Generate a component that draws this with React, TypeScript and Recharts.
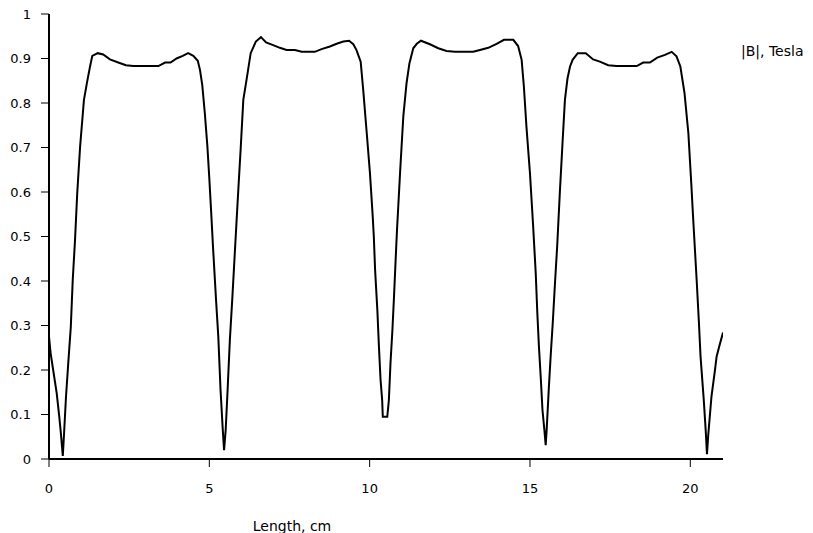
import { LineChart, Line, XAxis, YAxis } from 'recharts'

// length along the magnet (cm) and field magnitude (T)
const LENGTH_CM = [
  0.0, 0.05, 0.13, 0.24, 0.32, 0.37, 0.43, 0.47, 0.53, 0.6, 0.68, 0.74, 0.81, 0.88, 0.97,
  1.09, 1.19, 1.28, 1.35, 1.52, 1.69, 1.9, 2.16, 2.4, 2.63, 3.05, 3.41, 3.62, 3.79, 3.98,
  4.17, 4.34, 4.5, 4.64, 4.71, 4.78, 4.86, 4.94, 5.0, 5.05, 5.12, 5.21, 5.28, 5.35, 5.42,
  5.46, 5.51, 5.57, 5.64, 5.72, 5.8, 5.85, 5.9, 5.98, 6.06, 6.16, 6.29, 6.45, 6.61, 6.77,
  6.99, 7.2, 7.41, 7.67, 7.88, 8.29, 8.5, 8.76, 8.97, 9.18, 9.36, 9.49, 9.59, 9.72, 9.8,
  9.91, 10.01, 10.09, 10.13, 10.17, 10.24, 10.29, 10.34, 10.39, 10.41, 10.55, 10.6, 10.65,
  10.71, 10.76, 10.81, 10.85, 10.95, 11.05, 11.15, 11.24, 11.36, 11.47, 11.6, 11.88, 12.14,
  12.4, 12.66, 13.23, 13.44, 13.7, 13.96, 14.19, 14.48, 14.63, 14.74, 14.81, 14.89, 15.0,
  15.1, 15.18, 15.23, 15.28, 15.34, 15.39, 15.45, 15.49, 15.52, 15.59, 15.65, 15.71, 15.78,
  15.85, 15.93, 16.02, 16.09, 16.17, 16.25, 16.33, 16.49, 16.74, 16.97, 17.18, 17.44, 17.7,
  18.33, 18.53, 18.74, 18.97, 19.21, 19.42, 19.57, 19.69, 19.82, 19.94, 20.03, 20.09, 20.2,
  20.27, 20.32, 20.42, 20.48, 20.52, 20.56, 20.66, 20.77, 20.82, 20.9, 21.02,
]

const B_TESLA = [
  0.275, 0.238, 0.2, 0.148, 0.095, 0.058, 0.007, 0.058, 0.14, 0.215, 0.297, 0.402, 0.49, 0.597, 0.702,
  0.807, 0.848, 0.882, 0.906, 0.912, 0.909, 0.898, 0.891, 0.885, 0.883, 0.883, 0.883, 0.891, 0.891, 0.9,
  0.906, 0.912, 0.906, 0.895, 0.874, 0.84, 0.777, 0.702, 0.63, 0.565, 0.47, 0.357, 0.275, 0.155, 0.065,
  0.02, 0.065, 0.155, 0.267, 0.365, 0.47, 0.535, 0.6, 0.7, 0.807, 0.852, 0.912, 0.938, 0.948, 0.936,
  0.93, 0.924, 0.919, 0.919, 0.915, 0.915, 0.921, 0.927, 0.933, 0.938, 0.94, 0.932, 0.919, 0.893, 0.829,
  0.732, 0.642, 0.552, 0.5, 0.425, 0.335, 0.252, 0.178, 0.133, 0.095, 0.095, 0.133, 0.215,
  0.29, 0.365, 0.447, 0.51, 0.645, 0.77, 0.844, 0.889, 0.923, 0.933, 0.94, 0.932, 0.923,
  0.917, 0.915, 0.915, 0.919, 0.924, 0.933, 0.942, 0.942, 0.928, 0.897, 0.837, 0.747, 0.642,
  0.522, 0.417, 0.327, 0.252, 0.178, 0.11, 0.065, 0.031, 0.065, 0.162, 0.237, 0.305, 0.395,
  0.48, 0.597, 0.717, 0.807, 0.855, 0.882, 0.897, 0.912, 0.912, 0.898, 0.893, 0.885, 0.883,
  0.883, 0.891, 0.891, 0.902, 0.908, 0.915, 0.905, 0.882, 0.822, 0.732, 0.62, 0.54, 0.4,
  0.305, 0.23, 0.133, 0.065, 0.011, 0.054, 0.14, 0.2, 0.23, 0.252, 0.284,
]

const X_TICKS = [0, 5, 10, 15, 20]
const Y_TICKS = [0, 0.1, 0.2, 0.3, 0.4, 0.5, 0.6, 0.7, 0.8, 0.9, 1]

const data = LENGTH_CM.map((x, i) => ({ x, b: B_TESLA[i] }))

const FONT = '"DejaVu Sans", Verdana, sans-serif'
const tickStyle = { fontFamily: FONT, fontSize: 13, fill: '#000' }

export default function App() {
  return (
    <div style={{ position: 'absolute', left: 0, top: 0, width: 813, height: 533, background: '#fff' }}>
      <LineChart
        width={813}
        height={533}
        data={data}
        margin={{ top: 14, right: 90, bottom: 44, left: 0 }}
      >
        <XAxis
          dataKey="x"
          type="number"
          domain={[0, 21.02]}
          ticks={X_TICKS}
          allowDataOverflow
          height={30}
          tickSize={8}
          tickMargin={17}
          tick={tickStyle}
          axisLine={{ stroke: '#000', strokeWidth: 2 }}
          tickLine={{ stroke: '#000', strokeWidth: 1 }}
          label={{
            value: 'Length, cm',
            position: 'bottom',
            offset: 32,
            dx: -94,
            style: { fontFamily: FONT, fontSize: 14, fill: '#000' },
          }}
        />
        <YAxis
          type="number"
          domain={[0, 1]}
          ticks={Y_TICKS}
          width={49}
          tickSize={8}
          tickMargin={10}
          tick={tickStyle}
          tickFormatter={(v: number) => String(Math.round(v * 10) / 10)}
          axisLine={{ stroke: '#000', strokeWidth: 2 }}
          tickLine={{ stroke: '#000', strokeWidth: 1 }}
        />
        <Line
          type="linear"
          dataKey="b"
          stroke="#000"
          strokeWidth={2}
          dot={false}
          activeDot={false}
          isAnimationActive={false}
        />
      </LineChart>
      <div
        style={{
          position: 'absolute',
          left: 741,
          top: 43,
          fontFamily: FONT,
          fontSize: 14,
          color: '#000',
          whiteSpace: 'nowrap',
        }}
      >
        |B|, Tesla
      </div>
    </div>
  )
}
